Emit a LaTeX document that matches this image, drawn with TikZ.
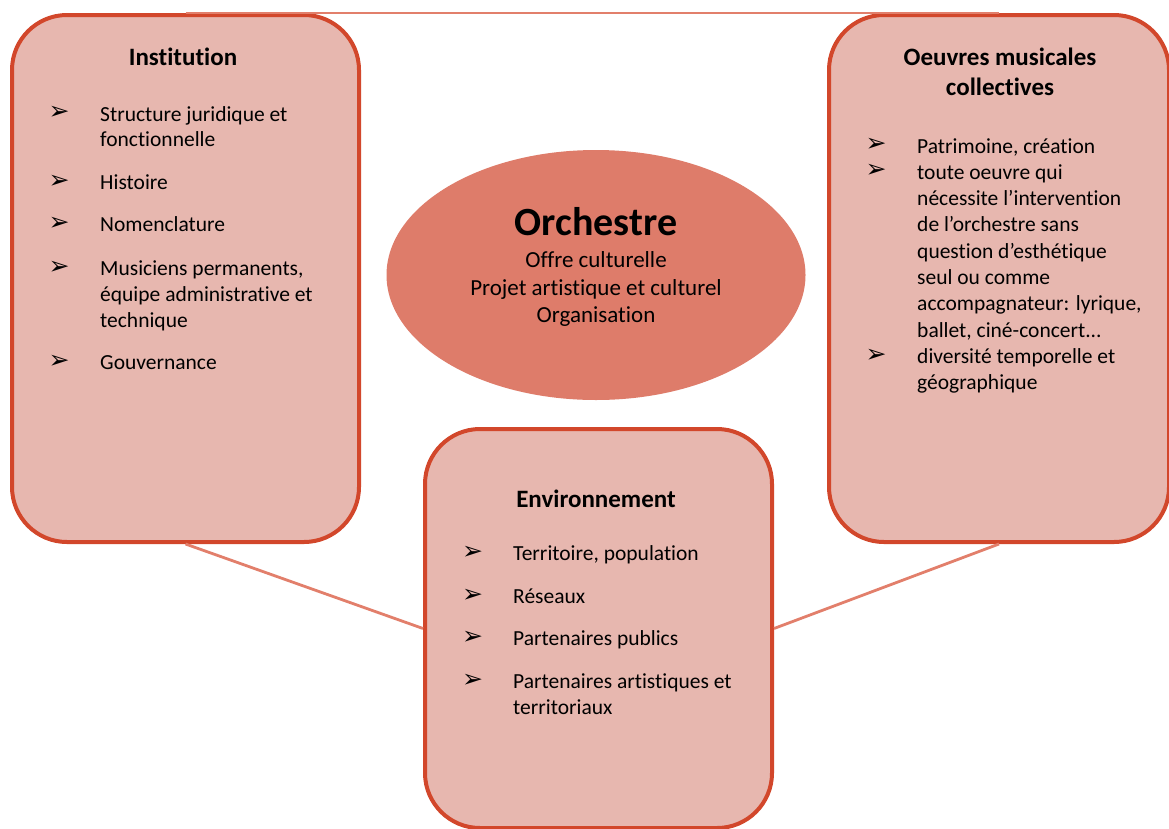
\documentclass[tikz,border=0pt]{standalone}
\usepackage{fontspec}
\setmainfont{Carlito}[Ligatures={NoCommon}]
\newfontfamily\dejavu{DejaVu Sans}
\usetikzlibrary{shapes.geometric}
\definecolor{bord}{HTML}{D2472B}
\definecolor{boxfill}{HTML}{E7B7AF}
\definecolor{ellfill}{HTML}{DE7C6A}
\definecolor{link}{HTML}{E27F6B}
\begin{document}
\begin{tikzpicture}[x=1pt,y=-1pt,
  box/.style={draw=bord, line width=4pt, fill=boxfill, rounded corners=55pt, anchor=north west, inner sep=0pt},
  orch/.style={ellipse, fill=ellfill, draw=none, inner sep=0pt},
  link/.style={draw=link, line width=2.8pt},
  txt/.style={anchor=base west, inner sep=0pt, font=\fontsize{21.5}{26}\selectfont},
  ttl/.style={anchor=base, inner sep=0pt, font=\fontsize{25}{30}\selectfont\bfseries},
  ctr/.style={anchor=base, inner sep=0pt, font=\fontsize{23}{28}\selectfont},
  arr/.style={anchor=center, inner sep=0pt, font=\fontsize{25}{28}\dejavu}
]
\useasboundingbox (0,0) rectangle (1169,828);
% boxes
\node[box, minimum width=347pt, minimum height=527pt] (inst) at (10,13) {};
\node[box, minimum width=340pt, minimum height=527pt] (oeuv) at (827,13) {};
\node[box, minimum width=347pt, minimum height=399pt] (env) at (423,427) {};
\node[orch, minimum width=419pt, minimum height=250pt] (orchestre) at (596,275) {};
% connectors
\draw[link] (inst.north) -- (oeuv.north);
\draw[link] (inst.south) -- (env.west);
\draw[link] (env.east) -- (oeuv.south);
% titles
\node[ttl] (tinst) at (183,65) {Institution};
\node[ttl] (toeuv1) at (1000,65) {Oeuvres musicales};
\node[ttl] (toeuv2) at (1000,95) {collectives};
\node[ttl] (tenv) at (596,507) {Environnement};
\node[anchor=base, inner sep=0pt, font=\fontsize{40}{46}\selectfont\bfseries] (torch) at (596,235) {Orchestre};
\node[ctr] (o1) at (596,267) {Offre culturelle};
\node[ctr] (o2) at (596,295) {Projet artistique et culturel};
\node[ctr] (o3) at (596,322) {Organisation};
% left items
\foreach \t/\y [count=\i] in {{Structure juridique et}/121, {fonctionnelle}/146, {Histoire}/189, {Nomenclature}/231, {Musiciens permanents,}/275, {équipe administrative et}/301, {technique}/327, {Gouvernance}/369}
  {\node[txt] (li\i) at (100,\y) {\t};}
\foreach \y [count=\i] in {113,182,224,268,362}
  {\node[arr] (la\i) at (59,\y) {➢};}
% right items
\foreach \t/\y [count=\i] in {{Patrimoine, création}/153, {toute oeuvre qui}/179, {nécessite l’intervention}/205.5, {de l’orchestre sans}/231.5, {question d’esthétique}/258, {seul ou comme}/284, {accompagnateur: lyrique,}/310.5, {ballet, ciné-concert...}/337, {diversité temporelle et}/363, {géographique}/389}
  {\node[txt] (ri\i) at (917,\y) {\t};}
\foreach \y [count=\i] in {145,171,356}
  {\node[arr] (ra\i) at (876,\y) {➢};}
% bottom items
\foreach \t/\y [count=\i] in {{Territoire, population}/560, {Réseaux}/603, {Partenaires publics}/645, {Partenaires artistiques et}/688, {territoriaux}/714}
  {\node[txt] (bi\i) at (513,\y) {\t};}
\foreach \y [count=\i] in {553,596,638,681}
  {\node[arr] (ba\i) at (472.5,\y) {➢};}
\end{tikzpicture}
\end{document}
